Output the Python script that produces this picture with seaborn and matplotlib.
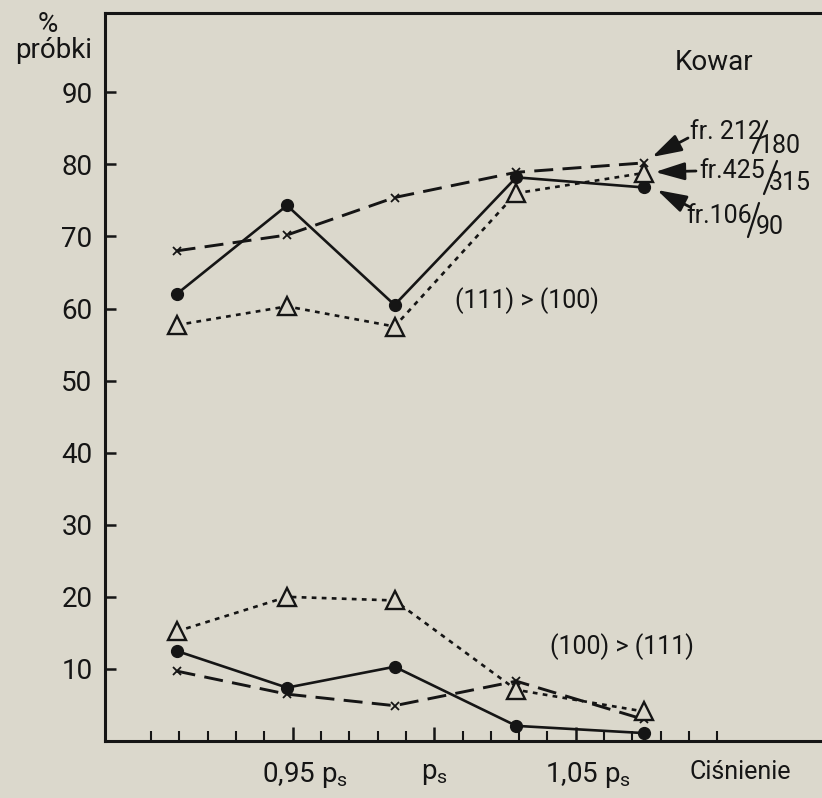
import matplotlib
matplotlib.use("Agg")
import matplotlib.pyplot as plt
import matplotlib.transforms as mtransforms
from matplotlib.lines import Line2D
from matplotlib.patches import FancyArrowPatch
import seaborn as sns
import pandas as pd
import numpy as np

# ---------------- data ----------------
pressure = [0.909, 0.948, 0.986, 1.029, 1.074]   # relative pressure (p / p_s)

# (111) > (100)
upper_fr106 = [62.0, 74.3, 60.5, 78.2, 76.8]
upper_fr212 = [68.0, 70.2, 75.4, 78.9, 80.2]
upper_fr425 = [57.7, 60.3, 57.5, 76.0, 78.8]

# (100) > (111)
lower_fr106 = [12.5, 7.4, 10.3, 2.1, 1.1]
lower_fr212 = [9.7, 6.5, 4.9, 8.3, 3.0]
lower_fr425 = [15.2, 20.0, 19.5, 7.1, 4.1]

y_ticks = [10, 20, 30, 40, 50, 60, 70, 80, 90]
x_major = [0.95, 1.00, 1.05]
x_major_labels = ["0,95 p$_\\mathregular{s}$", "p$_\\mathregular{s}$", "1,05 p$_\\mathregular{s}$"]

# ---------------- style ----------------
sns.set_theme(style="white")
plt.rcParams["font.family"] = ["Roboto", "DejaVu Sans"]
plt.rcParams["font.weight"] = "normal"

BG = "#dbd8cc"
INK = "#151515"
FS = 20

W, H = 822, 798
fig = plt.figure(figsize=(W / 100, H / 100), dpi=100, facecolor=BG)
ax = fig.add_axes([105 / W, (H - 741) / H, (W - 105) / W, (741 - 13) / H])
ax.set_facecolor(BG)


def px(x, y):
    return (x / W, 1 - y / H)


series = {
    "fr106": dict(marker="o", markersize=8.5, markerfacecolor=INK, markeredgecolor=INK,
                  markeredgewidth=1, linestyle="-", linewidth=1.9),
    "fr212": dict(marker="x", markersize=6, markerfacecolor=INK, markeredgecolor=INK,
                  markeredgewidth=1.3, linestyle=(0, (6.5, 3.2)), linewidth=2.1),
    "fr425": dict(marker="^", markersize=13, markerfacecolor=BG, markeredgecolor=INK,
                  markeredgewidth=1.7, linestyle=(0, (1.8, 2.0)), linewidth=1.9),
}
groups = [
    ("fr106", upper_fr106), ("fr212", upper_fr212), ("fr425", upper_fr425),
    ("fr106", lower_fr106), ("fr212", lower_fr212), ("fr425", lower_fr425),
]
for name, vals in groups:
    df = pd.DataFrame({"p": pressure, "v": vals})
    sns.lineplot(data=df, x="p", y="v", ax=ax, color=INK, errorbar=None,
                 zorder=3, **series[name])

# ---------------- axes ----------------
ax.set_xlim(0.8837, 1.137)
ax.set_ylim(0, 101)
ax.set_xlabel("")
ax.set_ylabel("")
for side in ["left", "bottom", "top"]:
    ax.spines[side].set_visible(True)
    ax.spines[side].set_color(INK)
    ax.spines[side].set_linewidth(2.2)
ax.spines["right"].set_visible(False)

ax.set_yticks(y_ticks)
ax.set_yticklabels([str(t) for t in y_ticks])
ax.tick_params(axis="y", direction="in", length=8, width=1.8, color=INK,
               labelsize=FS, labelcolor=INK, pad=9, left=True)

ax.set_xticks(x_major)
ax.set_xticklabels(x_major_labels)
ax.set_xticks(np.round(np.arange(0.90, 1.1001, 0.01), 3), minor=True)
ax.tick_params(axis="x", which="major", direction="in", length=10, width=1.8,
               color=INK, labelsize=FS, labelcolor=INK, pad=14, bottom=True)
ax.tick_params(axis="x", which="minor", direction="in", length=7, width=1.5,
               color=INK, bottom=True)
ax.grid(False)
for i, lab in enumerate(ax.get_xticklabels()):
    dx = 0 if i == 1 else 12
    lab.set_transform(lab.get_transform() +
                      mtransforms.ScaledTranslation(dx / 100, 0, fig.dpi_scale_trans))

# ---------------- texts ----------------
tk = dict(color=INK, fontsize=FS, transform=fig.transFigure)
fig.text(*px(48, 25), "%", ha="center", va="center", **tk)
fig.text(*px(54, 51), "próbki", ha="center", va="center", **tk)
fig.text(*px(714, 62), "Kowar", ha="center", va="center", **tk)
fig.text(*px(527, 301), "(111) > (100)", ha="center", va="center",
         color=INK, fontsize=18, transform=fig.transFigure)
fig.text(*px(622, 647), "(100) > (111)", ha="center", va="center",
         color=INK, fontsize=18, transform=fig.transFigure)
fig.text(*px(740, 772), "Ciśnienie", ha="center", va="center",
         color=INK, fontsize=18, transform=fig.transFigure)

# fraction labels (numerator, slash line, denominator)
ff = dict(color=INK, fontsize=18, transform=fig.transFigure, va="center")
fig.text(*px(690, 132), "fr. 212", ha="left", **ff)
fig.text(*px(759, 146), "180", ha="left", **ff)
fig.text(*px(699, 171), "fr.425", ha="left", **ff)
fig.text(*px(769, 183), "315", ha="left", **ff)
fig.text(*px(686, 216), "fr.106", ha="left", **ff)
fig.text(*px(756, 227), "90", ha="left", **ff)
for (x0, y0, x1, y1) in [(767, 121, 753, 153), (777, 161, 764, 194), (759, 203, 748, 237)]:
    a, b = px(x0, y0)
    c, d = px(x1, y1)
    fig.add_artist(Line2D([a, c], [b, d], color=INK, lw=1.6,
                          transform=fig.transFigure))

arrow = dict(arrowstyle="-|>,head_length=1.5,head_width=0.45", color=INK,
             lw=2.0, mutation_scale=12, shrinkA=0, shrinkB=0)
for (x0, y0, x1, y1) in [(688, 138, 652, 157), (696, 171, 655, 172), (690, 207, 657, 190)]:
    fig.add_artist(FancyArrowPatch(px(x0, y0), px(x1, y1),
                                   transform=fig.transFigure, **arrow))

fig.savefig("out.png", dpi=100, facecolor=BG)
